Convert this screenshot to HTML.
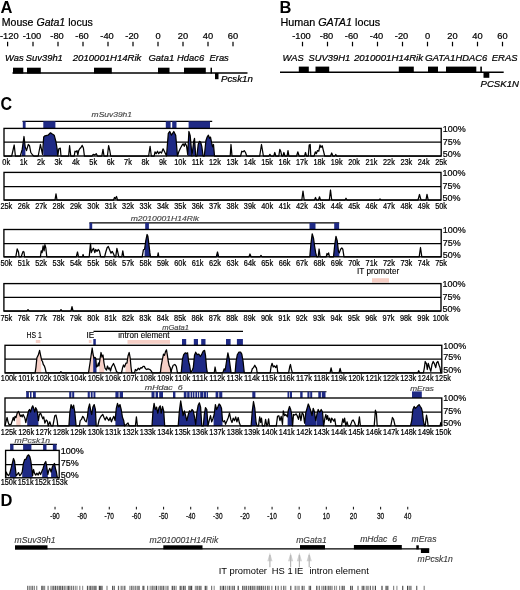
<!DOCTYPE html>
<html><head><meta charset="utf-8"><title>Gata1 locus figure</title>
<style>html,body{margin:0;padding:0;background:#fff;}svg{display:block;}text{font-family:"Liberation Sans",Arial,sans-serif;}</style></head><body>
<svg width="520" height="590" viewBox="0 0 520 590" font-family="Liberation Sans, Arial, sans-serif">
<rect width="520" height="590" fill="#fff"/>
<text x="0.6" y="12.6" font-size="16.5" text-anchor="start" fill="#000" font-weight="bold" >A</text>
<text x="1.7" y="26.1" font-size="10.6" stroke="#000" stroke-width="0.22" textLength="91.2" lengthAdjust="spacingAndGlyphs">Mouse <tspan font-style="italic">Gata1</tspan> locus</text>
<text x="0" y="39" font-size="9.3" text-anchor="start" fill="#000" stroke="#000" stroke-width="0.22" >-120</text>
<rect x="7" y="41.8" width="1.2" height="4.5" fill="#000" />
<text x="32" y="39" font-size="9.3" text-anchor="middle" fill="#000" stroke="#000" stroke-width="0.22" >-100</text>
<rect x="32.4" y="41.8" width="1.2" height="4.5" fill="#000" />
<text x="57" y="39" font-size="9.3" text-anchor="middle" fill="#000" stroke="#000" stroke-width="0.22" >-80</text>
<rect x="57.4" y="41.8" width="1.2" height="4.5" fill="#000" />
<text x="82" y="39" font-size="9.3" text-anchor="middle" fill="#000" stroke="#000" stroke-width="0.22" >-60</text>
<rect x="82.4" y="41.8" width="1.2" height="4.5" fill="#000" />
<text x="107" y="39" font-size="9.3" text-anchor="middle" fill="#000" stroke="#000" stroke-width="0.22" >-40</text>
<rect x="107.4" y="41.8" width="1.2" height="4.5" fill="#000" />
<text x="132" y="39" font-size="9.3" text-anchor="middle" fill="#000" stroke="#000" stroke-width="0.22" >-20</text>
<rect x="132.4" y="41.8" width="1.2" height="4.5" fill="#000" />
<text x="158" y="39" font-size="9.3" text-anchor="middle" fill="#000" stroke="#000" stroke-width="0.22" >0</text>
<rect x="157.4" y="41.8" width="1.2" height="4.5" fill="#000" />
<text x="183" y="39" font-size="9.3" text-anchor="middle" fill="#000" stroke="#000" stroke-width="0.22" >20</text>
<rect x="182.4" y="41.8" width="1.2" height="4.5" fill="#000" />
<text x="208" y="39" font-size="9.3" text-anchor="middle" fill="#000" stroke="#000" stroke-width="0.22" >40</text>
<rect x="207.4" y="41.8" width="1.2" height="4.5" fill="#000" />
<text x="233" y="39" font-size="9.3" text-anchor="middle" fill="#000" stroke="#000" stroke-width="0.22" >60</text>
<rect x="232.4" y="41.8" width="1.2" height="4.5" fill="#000" />
<text x="5" y="60.6" font-size="9.4" text-anchor="start" fill="#000" stroke="#000" stroke-width="0.22" font-style="italic" >Was</text>
<text x="25.8" y="60.6" font-size="9.4" text-anchor="start" fill="#000" stroke="#000" stroke-width="0.22" font-style="italic" >Suv39h1</text>
<text x="72.8" y="60.6" font-size="9.4" text-anchor="start" fill="#000" textLength="68.6" lengthAdjust="spacingAndGlyphs" stroke="#000" stroke-width="0.22" font-style="italic" >2010001H14Rik</text>
<text x="148.4" y="60.6" font-size="9.4" text-anchor="start" fill="#000" textLength="25.8" lengthAdjust="spacingAndGlyphs" stroke="#000" stroke-width="0.22" font-style="italic" >Gata1</text>
<text x="177" y="60.6" font-size="9.4" text-anchor="start" fill="#000" stroke="#000" stroke-width="0.22" font-style="italic" >Hdac6</text>
<text x="209.5" y="60.6" font-size="9.4" text-anchor="start" fill="#000" stroke="#000" stroke-width="0.22" font-style="italic" >Eras</text>
<text x="221" y="82" font-size="9.4" text-anchor="start" fill="#000" textLength="31.8" lengthAdjust="spacingAndGlyphs" stroke="#000" stroke-width="0.22" font-style="italic" >Pcsk1n</text>
<line x1="12.5" y1="73" x2="247.5" y2="73" stroke="#000" stroke-width="1.4" />
<rect x="13" y="67.7" width="10.3" height="5.8" fill="#000" />
<rect x="27" y="67.7" width="13.8" height="5.8" fill="#000" />
<rect x="94" y="67.7" width="17.8" height="5.8" fill="#000" />
<rect x="158" y="67.7" width="11.5" height="5.8" fill="#000" />
<rect x="184" y="67.7" width="21.8" height="5.8" fill="#000" />
<rect x="210.5" y="67.7" width="1.5" height="5.8" fill="#000" />
<rect x="215" y="73" width="3.5" height="6.2" fill="#000" />
<text x="279.6" y="12.6" font-size="16.5" text-anchor="start" fill="#000" font-weight="bold" >B</text>
<text x="280.4" y="26.1" font-size="10.6" stroke="#000" stroke-width="0.22" textLength="99.8" lengthAdjust="spacingAndGlyphs">Human <tspan font-style="italic">GATA1</tspan> locus</text>
<text x="301.5" y="39" font-size="9.3" text-anchor="middle" fill="#000" stroke="#000" stroke-width="0.22" >-100</text>
<rect x="301.9" y="41.8" width="1.2" height="4.5" fill="#000" />
<text x="326.5" y="39" font-size="9.3" text-anchor="middle" fill="#000" stroke="#000" stroke-width="0.22" >-80</text>
<rect x="326.9" y="41.8" width="1.2" height="4.5" fill="#000" />
<text x="351.5" y="39" font-size="9.3" text-anchor="middle" fill="#000" stroke="#000" stroke-width="0.22" >-60</text>
<rect x="351.9" y="41.8" width="1.2" height="4.5" fill="#000" />
<text x="376.5" y="39" font-size="9.3" text-anchor="middle" fill="#000" stroke="#000" stroke-width="0.22" >-40</text>
<rect x="376.9" y="41.8" width="1.2" height="4.5" fill="#000" />
<text x="401.5" y="39" font-size="9.3" text-anchor="middle" fill="#000" stroke="#000" stroke-width="0.22" >-20</text>
<rect x="401.9" y="41.8" width="1.2" height="4.5" fill="#000" />
<text x="427.5" y="39" font-size="9.3" text-anchor="middle" fill="#000" stroke="#000" stroke-width="0.22" >0</text>
<rect x="426.9" y="41.8" width="1.2" height="4.5" fill="#000" />
<text x="452.5" y="39" font-size="9.3" text-anchor="middle" fill="#000" stroke="#000" stroke-width="0.22" >20</text>
<rect x="451.9" y="41.8" width="1.2" height="4.5" fill="#000" />
<text x="477.5" y="39" font-size="9.3" text-anchor="middle" fill="#000" stroke="#000" stroke-width="0.22" >40</text>
<rect x="476.9" y="41.8" width="1.2" height="4.5" fill="#000" />
<text x="502.5" y="39" font-size="9.3" text-anchor="middle" fill="#000" stroke="#000" stroke-width="0.22" >60</text>
<rect x="501.9" y="41.8" width="1.2" height="4.5" fill="#000" />
<text x="282.5" y="60.5" font-size="9.4" text-anchor="start" fill="#000" stroke="#000" stroke-width="0.22" font-style="italic" >WAS</text>
<text x="308.5" y="60.5" font-size="9.4" text-anchor="start" fill="#000" stroke="#000" stroke-width="0.22" font-style="italic" >SUV39H1</text>
<text x="353.9" y="60.5" font-size="9.4" text-anchor="start" fill="#000" textLength="69.2" lengthAdjust="spacingAndGlyphs" stroke="#000" stroke-width="0.22" font-style="italic" >2010001H14Rik</text>
<text x="424.9" y="60.5" font-size="9.4" text-anchor="start" fill="#000" textLength="30.6" lengthAdjust="spacingAndGlyphs" stroke="#000" stroke-width="0.22" font-style="italic" >GATA1</text>
<text x="455.6" y="60.5" font-size="9.4" text-anchor="start" fill="#000" textLength="31.6" lengthAdjust="spacingAndGlyphs" stroke="#000" stroke-width="0.22" font-style="italic" >HDAC6</text>
<text x="491.8" y="60.5" font-size="9.4" text-anchor="start" fill="#000" textLength="25.8" lengthAdjust="spacingAndGlyphs" stroke="#000" stroke-width="0.22" font-style="italic" >ERAS</text>
<text x="480.5" y="87.4" font-size="9.4" text-anchor="start" fill="#000" textLength="38.4" lengthAdjust="spacingAndGlyphs" stroke="#000" stroke-width="0.22" font-style="italic" >PCSK1N</text>
<line x1="280" y1="72.2" x2="503.7" y2="72.2" stroke="#000" stroke-width="1.4" />
<rect x="298.8" y="66.6" width="10" height="6.1" fill="#000" />
<rect x="315.5" y="66.6" width="13.7" height="6.1" fill="#000" />
<rect x="398.8" y="66.6" width="15" height="6.1" fill="#000" />
<rect x="428" y="66.6" width="10" height="6.1" fill="#000" />
<rect x="446" y="66.6" width="30.3" height="6.1" fill="#000" />
<rect x="480.3" y="66.6" width="1.6" height="6.1" fill="#000" />
<rect x="483.5" y="72.2" width="5.8" height="5.6" fill="#000" />
<text x="0.5" y="109.6" font-size="17.8" text-anchor="start" fill="#000" textLength="11.6" lengthAdjust="spacingAndGlyphs" font-weight="bold" >C</text>
<text x="91.6" y="116.5" font-size="8" text-anchor="start" fill="#444" textLength="40.4" lengthAdjust="spacingAndGlyphs" stroke="#444" stroke-width="0.15" font-style="italic" >mSuv39h1</text>
<line x1="22.5" y1="121.4" x2="212.2" y2="121.4" stroke="#000" stroke-width="1.15" />
<rect x="22.8" y="121.3" width="2.8" height="7.1" fill="#1f2a85" />
<rect x="43.3" y="121.3" width="12.1" height="7.1" fill="#1f2a85" />
<rect x="165.8" y="121.3" width="4.8" height="7.1" fill="#1f2a85" />
<rect x="172.2" y="121.3" width="4.3" height="7.1" fill="#1f2a85" />
<rect x="188.6" y="121.3" width="21.4" height="7.1" fill="#1f2a85" />
<text x="130.7" y="220.8" font-size="8" text-anchor="start" fill="#444" textLength="68.4" lengthAdjust="spacingAndGlyphs" stroke="#444" stroke-width="0.15" font-style="italic" >m2010001H14Rik</text>
<line x1="89.4" y1="222.9" x2="339.2" y2="222.9" stroke="#000" stroke-width="1.15" />
<rect x="89.4" y="222.8" width="2.8" height="6.7" fill="#1f2a85" />
<rect x="145.2" y="222.8" width="3.7" height="6.7" fill="#1f2a85" />
<rect x="309.5" y="222.8" width="6" height="6.7" fill="#1f2a85" />
<rect x="334.2" y="222.8" width="4.9" height="6.7" fill="#1f2a85" />
<text x="357" y="273.5" font-size="8.2" text-anchor="start" fill="#000" stroke="#000" stroke-width="0.12" >IT promoter</text>
<rect x="372" y="278.2" width="17" height="4.4" fill="#f6cfc6" />
<text x="26.6" y="338" font-size="8.2" text-anchor="start" fill="#000" textLength="15.2" lengthAdjust="spacingAndGlyphs" stroke="#000" stroke-width="0.12" >HS 1</text>
<rect x="35.8" y="340" width="4.5" height="3" fill="#f6cfc6" />
<text x="86.6" y="338" font-size="8.2" text-anchor="start" fill="#000" stroke="#000" stroke-width="0.12" >IE</text>
<rect x="88.8" y="340" width="2.7" height="3" fill="#f6cfc6" />
<line x1="93.5" y1="331.3" x2="243" y2="331.3" stroke="#000" stroke-width="1.2" />
<text x="162.2" y="330.4" font-size="7.6" text-anchor="start" fill="#444" textLength="26.8" lengthAdjust="spacingAndGlyphs" stroke="#444" stroke-width="0.15" font-style="italic" >mGata1</text>
<text x="118.2" y="338" font-size="8.2" text-anchor="start" fill="#000" textLength="51.2" lengthAdjust="spacingAndGlyphs" stroke="#000" stroke-width="0.12" >intron element</text>
<rect x="127.5" y="340" width="42.5" height="3.8" fill="#f6cfc6" />
<rect x="93.3" y="339" width="2.5" height="6.3" fill="#1f2a85" />
<rect x="182" y="339" width="4.2" height="6.3" fill="#1f2a85" />
<rect x="193.8" y="339" width="4.2" height="6.3" fill="#1f2a85" />
<rect x="201.2" y="339" width="4.3" height="6.3" fill="#1f2a85" />
<rect x="226" y="339" width="4.6" height="6.3" fill="#1f2a85" />
<rect x="236.9" y="339" width="6" height="6.3" fill="#1f2a85" />
<text x="144.8" y="389.5" font-size="7.3" text-anchor="start" fill="#444" textLength="37.8" lengthAdjust="spacingAndGlyphs" stroke="#444" stroke-width="0.15" font-style="italic" >mHdac&#160;&#160;6</text>
<line x1="26" y1="391.7" x2="326.5" y2="391.7" stroke="#000" stroke-width="1.15" />
<rect x="26.2" y="391.6" width="2.7" height="6.4" fill="#1f2a85" />
<rect x="30" y="391.6" width="1.5" height="6.4" fill="#1f2a85" />
<rect x="33" y="391.6" width="2.8" height="6.4" fill="#1f2a85" />
<rect x="69.2" y="391.6" width="2.2" height="6.4" fill="#1f2a85" />
<rect x="72.2" y="391.6" width="2" height="6.4" fill="#1f2a85" />
<rect x="87.7" y="391.6" width="2.1" height="6.4" fill="#1f2a85" />
<rect x="90.8" y="391.6" width="1.8" height="6.4" fill="#1f2a85" />
<rect x="93.5" y="391.6" width="1.9" height="6.4" fill="#1f2a85" />
<rect x="115.4" y="391.6" width="3.2" height="6.4" fill="#1f2a85" />
<rect x="119.6" y="391.6" width="3.4" height="6.4" fill="#1f2a85" />
<rect x="151.5" y="391.6" width="3" height="6.4" fill="#1f2a85" />
<rect x="155.6" y="391.6" width="2.4" height="6.4" fill="#1f2a85" />
<rect x="159.2" y="391.6" width="3.8" height="6.4" fill="#1f2a85" />
<rect x="173" y="391.6" width="2.4" height="6.4" fill="#1f2a85" />
<rect x="183.8" y="391.6" width="2.7" height="6.4" fill="#1f2a85" />
<rect x="187.2" y="391.6" width="2.4" height="6.4" fill="#1f2a85" />
<rect x="190.6" y="391.6" width="1.7" height="6.4" fill="#1f2a85" />
<rect x="193" y="391.6" width="1.4" height="6.4" fill="#1f2a85" />
<rect x="195.4" y="391.6" width="1.6" height="6.4" fill="#1f2a85" />
<rect x="197.8" y="391.6" width="1.4" height="6.4" fill="#1f2a85" />
<rect x="200.2" y="391.6" width="2.8" height="6.4" fill="#1f2a85" />
<rect x="203.6" y="391.6" width="2.4" height="6.4" fill="#1f2a85" />
<rect x="206.6" y="391.6" width="1.4" height="6.4" fill="#1f2a85" />
<rect x="215.6" y="391.6" width="2.7" height="6.4" fill="#1f2a85" />
<rect x="219.2" y="391.6" width="3.1" height="6.4" fill="#1f2a85" />
<rect x="252.3" y="391.6" width="3.1" height="6.4" fill="#1f2a85" />
<rect x="287.5" y="391.6" width="1.8" height="6.4" fill="#1f2a85" />
<rect x="290" y="391.6" width="2" height="6.4" fill="#1f2a85" />
<rect x="300.2" y="391.6" width="2.4" height="6.4" fill="#1f2a85" />
<rect x="307.4" y="391.6" width="2.1" height="6.4" fill="#1f2a85" />
<rect x="310.2" y="391.6" width="2" height="6.4" fill="#1f2a85" />
<rect x="318.3" y="391.6" width="2.6" height="6.4" fill="#1f2a85" />
<rect x="321.8" y="391.6" width="3.7" height="6.4" fill="#1f2a85" />
<text x="410.2" y="390.6" font-size="7.6" text-anchor="start" fill="#444" textLength="23.8" lengthAdjust="spacingAndGlyphs" stroke="#444" stroke-width="0.15" font-style="italic" >mEras</text>
<rect x="412" y="391.4" width="9.8" height="6.6" fill="#1f2a85" />
<text x="14.6" y="443.4" font-size="8" text-anchor="start" fill="#444" textLength="35.4" lengthAdjust="spacingAndGlyphs" stroke="#444" stroke-width="0.15" font-style="italic" >mPcsk1n</text>
<line x1="10.1" y1="444.4" x2="56.9" y2="444.4" stroke="#000" stroke-width="1.15" />
<rect x="10.1" y="444.3" width="3.4" height="6.2" fill="#1f2a85" />
<rect x="23.1" y="444.3" width="8.3" height="6.2" fill="#1f2a85" />
<rect x="43.1" y="444.3" width="3.4" height="6.2" fill="#1f2a85" />
<rect x="52.9" y="444.3" width="3.7" height="6.2" fill="#1f2a85" />
<line x1="4" y1="142.2" x2="441.2" y2="142.2" stroke="#000" stroke-width="1.25" />
<polygon points="21.8,156 21.8,150.79 22.2,149.4 24,136.5 25.2,147 25.4,147.55 25.4,156" fill="#1f2a85"/>
<polygon points="43.3,156 43.3,142.77 43.7,137 45,135.8 48,135.2 50.5,132.8 52.3,134 54.2,135.2 56,142 57.2,149.4 57.8,156 57.8,156" fill="#1f2a85"/>
<polygon points="166.5,156 166.5,156 168.3,133.4 169.8,131.5 171.4,135.2 173.8,131.5 175.7,135.2 177.5,156 177.5,156" fill="#1f2a85"/>
<polygon points="187.6,156 187.6,153.58 187.7,154.3 188.9,131.5 190.2,135.8 191.1,145.7 192,156 192,156" fill="#1f2a85"/>
<polygon points="192.8,156 192.8,149 193.6,142 194.5,138.3 195.7,156 195.7,156" fill="#1f2a85"/>
<polygon points="196.9,156 196.9,156 198.2,144.5 199.4,141.4 200.6,142 201.8,146.3 203.1,156 203.1,156" fill="#1f2a85"/>
<polygon points="204.3,156 204.3,156 205.9,140.8 207.1,137.1 208.4,135.2 209.6,138.3 210.5,137.1 211.7,143.2 212.6,146.9 213.5,144.5 214.5,156 214.5,156" fill="#1f2a85"/>
<polyline points="4,156 11.7,156 14.2,145 15.4,156 20.3,156 22.2,149.4 24,136.5 25.2,147 26.5,150.6 28.3,144.5 29.5,145.7 30.8,152.5 32.6,155 33.8,156 38.2,156 40.4,144.5 42.5,154.3 43.7,137 45,135.8 48,135.2 50.5,132.8 52.3,134 54.2,135.2 56,142 57.2,149.4 57.8,156 58.8,148.8 60.3,148.2 61,156 68.6,156 69.6,145.7 70.8,156 74.2,156 75,151.2 76,151.8 77,150.6 77.8,155 78.7,150.6 79.7,148.8 81,147.5 82.2,145.4 83.4,148 84.4,156 92,156 93.2,154.3 94.5,155 96.3,153.7 97.5,156 101.8,156 103,149.4 104,156 107.4,156 108.6,145.7 109.8,150.6 110.7,156 148.6,156 150.1,146.3 151.3,156 154.2,156 155,151.8 156.2,153.7 157.5,151.2 158.7,153.7 160,151.8 161.5,153 163.1,148.8 164.6,151.8 166.5,156 168.3,133.4 169.8,131.5 171.4,135.2 173.8,131.5 175.7,135.2 177.5,156 178.8,151.8 180.4,148.2 181.8,145.7 183.1,143.8 184.3,146.3 185.2,143.2 186.5,145.7 187.7,154.3 188.9,131.5 190.2,135.8 191.1,145.7 192,156 193.6,142 194.5,138.3 195.7,156 196.9,156 198.2,144.5 199.4,141.4 200.6,142 201.8,146.3 203.1,156 204.3,156 205.9,140.8 207.1,137.1 208.4,135.2 209.6,138.3 210.5,137.1 211.7,143.2 212.6,146.9 213.5,144.5 214.5,156 230.2,156 231,144.5 232,156 240.6,156 241.8,151.2 243,151.8 244.3,150.6 245.5,152.5 246.8,156 259.7,156 261.5,144.5 263.4,156 268.9,156 269.9,154.3 270.9,156 273.8,156 274.8,152.5 275.8,156 278.8,156 279.8,149.4 280.7,151.2 281.8,156 283,156 283.9,152.5 284.9,156 287.1,156 288,150.6 288.9,156 296.6,156 297.8,151.8 299.1,156 304.6,156 305.5,152.5 306.5,156 308.3,156 309.2,145 310.2,144.5 310.8,156 314.1,156 315.3,151.8 316.3,153.7 317.5,150.6 318.8,151.2 320,145 321,147.5 322.2,145.7 323.4,150.6 324.7,156 330.5,156 331.7,153 332.9,156 334.8,156 335.8,154.5 336.6,156 441.2,156" fill="none" stroke="#000" stroke-width="1.25" stroke-linejoin="round"/>
<rect x="4" y="128.4" width="437.2" height="27.6" fill="none" stroke="#000" stroke-width="1.35"/>
<text x="442.7" y="132.1" font-size="9.8" text-anchor="start" fill="#000" textLength="23" lengthAdjust="spacingAndGlyphs" stroke="#000" stroke-width="0.22" >100%</text>
<text x="442.7" y="144.8" font-size="9.8" text-anchor="start" fill="#000" textLength="18" lengthAdjust="spacingAndGlyphs" stroke="#000" stroke-width="0.22" >75%</text>
<text x="442.7" y="156.9" font-size="9.8" text-anchor="start" fill="#000" textLength="18" lengthAdjust="spacingAndGlyphs" stroke="#000" stroke-width="0.22" >50%</text>
<text x="6.2" y="164.6" font-size="8.4" text-anchor="middle" fill="#000" textLength="7.76" lengthAdjust="spacingAndGlyphs" stroke="#000" stroke-width="0.22" >0k</text>
<text x="23.6" y="164.6" font-size="8.4" text-anchor="middle" fill="#000" textLength="7.76" lengthAdjust="spacingAndGlyphs" stroke="#000" stroke-width="0.22" >1k</text>
<text x="40.99" y="164.6" font-size="8.4" text-anchor="middle" fill="#000" textLength="7.76" lengthAdjust="spacingAndGlyphs" stroke="#000" stroke-width="0.22" >2k</text>
<text x="58.39" y="164.6" font-size="8.4" text-anchor="middle" fill="#000" textLength="7.76" lengthAdjust="spacingAndGlyphs" stroke="#000" stroke-width="0.22" >3k</text>
<text x="75.78" y="164.6" font-size="8.4" text-anchor="middle" fill="#000" textLength="7.76" lengthAdjust="spacingAndGlyphs" stroke="#000" stroke-width="0.22" >4k</text>
<text x="93.18" y="164.6" font-size="8.4" text-anchor="middle" fill="#000" textLength="7.76" lengthAdjust="spacingAndGlyphs" stroke="#000" stroke-width="0.22" >5k</text>
<text x="110.58" y="164.6" font-size="8.4" text-anchor="middle" fill="#000" textLength="7.76" lengthAdjust="spacingAndGlyphs" stroke="#000" stroke-width="0.22" >6k</text>
<text x="127.97" y="164.6" font-size="8.4" text-anchor="middle" fill="#000" textLength="7.76" lengthAdjust="spacingAndGlyphs" stroke="#000" stroke-width="0.22" >7k</text>
<text x="145.37" y="164.6" font-size="8.4" text-anchor="middle" fill="#000" textLength="7.76" lengthAdjust="spacingAndGlyphs" stroke="#000" stroke-width="0.22" >8k</text>
<text x="162.76" y="164.6" font-size="8.4" text-anchor="middle" fill="#000" textLength="7.76" lengthAdjust="spacingAndGlyphs" stroke="#000" stroke-width="0.22" >9k</text>
<text x="180.16" y="164.6" font-size="8.4" text-anchor="middle" fill="#000" textLength="11.85" lengthAdjust="spacingAndGlyphs" stroke="#000" stroke-width="0.22" >10k</text>
<text x="197.56" y="164.6" font-size="8.4" text-anchor="middle" fill="#000" textLength="11.85" lengthAdjust="spacingAndGlyphs" stroke="#000" stroke-width="0.22" >11k</text>
<text x="214.95" y="164.6" font-size="8.4" text-anchor="middle" fill="#000" textLength="11.85" lengthAdjust="spacingAndGlyphs" stroke="#000" stroke-width="0.22" >12k</text>
<text x="232.35" y="164.6" font-size="8.4" text-anchor="middle" fill="#000" textLength="11.85" lengthAdjust="spacingAndGlyphs" stroke="#000" stroke-width="0.22" >13k</text>
<text x="249.74" y="164.6" font-size="8.4" text-anchor="middle" fill="#000" textLength="11.85" lengthAdjust="spacingAndGlyphs" stroke="#000" stroke-width="0.22" >14k</text>
<text x="267.14" y="164.6" font-size="8.4" text-anchor="middle" fill="#000" textLength="11.85" lengthAdjust="spacingAndGlyphs" stroke="#000" stroke-width="0.22" >15k</text>
<text x="284.54" y="164.6" font-size="8.4" text-anchor="middle" fill="#000" textLength="11.85" lengthAdjust="spacingAndGlyphs" stroke="#000" stroke-width="0.22" >16k</text>
<text x="301.93" y="164.6" font-size="8.4" text-anchor="middle" fill="#000" textLength="11.85" lengthAdjust="spacingAndGlyphs" stroke="#000" stroke-width="0.22" >17k</text>
<text x="319.33" y="164.6" font-size="8.4" text-anchor="middle" fill="#000" textLength="11.85" lengthAdjust="spacingAndGlyphs" stroke="#000" stroke-width="0.22" >18k</text>
<text x="336.72" y="164.6" font-size="8.4" text-anchor="middle" fill="#000" textLength="11.85" lengthAdjust="spacingAndGlyphs" stroke="#000" stroke-width="0.22" >19k</text>
<text x="354.12" y="164.6" font-size="8.4" text-anchor="middle" fill="#000" textLength="11.85" lengthAdjust="spacingAndGlyphs" stroke="#000" stroke-width="0.22" >20k</text>
<text x="371.52" y="164.6" font-size="8.4" text-anchor="middle" fill="#000" textLength="11.85" lengthAdjust="spacingAndGlyphs" stroke="#000" stroke-width="0.22" >21k</text>
<text x="388.91" y="164.6" font-size="8.4" text-anchor="middle" fill="#000" textLength="11.85" lengthAdjust="spacingAndGlyphs" stroke="#000" stroke-width="0.22" >22k</text>
<text x="406.31" y="164.6" font-size="8.4" text-anchor="middle" fill="#000" textLength="11.85" lengthAdjust="spacingAndGlyphs" stroke="#000" stroke-width="0.22" >23k</text>
<text x="423.7" y="164.6" font-size="8.4" text-anchor="middle" fill="#000" textLength="11.85" lengthAdjust="spacingAndGlyphs" stroke="#000" stroke-width="0.22" >24k</text>
<text x="441.1" y="164.6" font-size="8.4" text-anchor="middle" fill="#000" textLength="11.85" lengthAdjust="spacingAndGlyphs" stroke="#000" stroke-width="0.22" >25k</text>
<line x1="4" y1="186.6" x2="441" y2="186.6" stroke="#000" stroke-width="1.25" />
<polyline points="4,200 55,200 56,193.8 57,200 113.5,200 114.5,197.5 115.5,198.5 116.5,196.5 117.5,200 301.8,200 303,191.2 304.2,200 314.5,200 315.5,197.5 316.5,200 318.5,200 319.5,196.8 320.5,200 329.3,200 330.5,190 331.7,200 345,200 346,198.2 347,200 379,200 380,199 381,200 418,200 419.5,194.5 421,200 426,200 427,194.3 428.2,200 441,200" fill="none" stroke="#000" stroke-width="1.25" stroke-linejoin="round"/>
<rect x="4" y="172.4" width="437" height="27.6" fill="none" stroke="#000" stroke-width="1.35"/>
<text x="442.5" y="176.1" font-size="9.8" text-anchor="start" fill="#000" textLength="23" lengthAdjust="spacingAndGlyphs" stroke="#000" stroke-width="0.22" >100%</text>
<text x="442.5" y="189.2" font-size="9.8" text-anchor="start" fill="#000" textLength="18" lengthAdjust="spacingAndGlyphs" stroke="#000" stroke-width="0.22" >75%</text>
<text x="442.5" y="200.9" font-size="9.8" text-anchor="start" fill="#000" textLength="18" lengthAdjust="spacingAndGlyphs" stroke="#000" stroke-width="0.22" >50%</text>
<text x="6.3" y="208.9" font-size="8.4" text-anchor="middle" fill="#000" textLength="11.85" lengthAdjust="spacingAndGlyphs" stroke="#000" stroke-width="0.22" >25k</text>
<text x="23.69" y="208.9" font-size="8.4" text-anchor="middle" fill="#000" textLength="11.85" lengthAdjust="spacingAndGlyphs" stroke="#000" stroke-width="0.22" >26k</text>
<text x="41.08" y="208.9" font-size="8.4" text-anchor="middle" fill="#000" textLength="11.85" lengthAdjust="spacingAndGlyphs" stroke="#000" stroke-width="0.22" >27k</text>
<text x="58.48" y="208.9" font-size="8.4" text-anchor="middle" fill="#000" textLength="11.85" lengthAdjust="spacingAndGlyphs" stroke="#000" stroke-width="0.22" >28k</text>
<text x="75.87" y="208.9" font-size="8.4" text-anchor="middle" fill="#000" textLength="11.85" lengthAdjust="spacingAndGlyphs" stroke="#000" stroke-width="0.22" >29k</text>
<text x="93.26" y="208.9" font-size="8.4" text-anchor="middle" fill="#000" textLength="11.85" lengthAdjust="spacingAndGlyphs" stroke="#000" stroke-width="0.22" >30k</text>
<text x="110.65" y="208.9" font-size="8.4" text-anchor="middle" fill="#000" textLength="11.85" lengthAdjust="spacingAndGlyphs" stroke="#000" stroke-width="0.22" >31k</text>
<text x="128.04" y="208.9" font-size="8.4" text-anchor="middle" fill="#000" textLength="11.85" lengthAdjust="spacingAndGlyphs" stroke="#000" stroke-width="0.22" >32k</text>
<text x="145.44" y="208.9" font-size="8.4" text-anchor="middle" fill="#000" textLength="11.85" lengthAdjust="spacingAndGlyphs" stroke="#000" stroke-width="0.22" >33k</text>
<text x="162.83" y="208.9" font-size="8.4" text-anchor="middle" fill="#000" textLength="11.85" lengthAdjust="spacingAndGlyphs" stroke="#000" stroke-width="0.22" >34k</text>
<text x="180.22" y="208.9" font-size="8.4" text-anchor="middle" fill="#000" textLength="11.85" lengthAdjust="spacingAndGlyphs" stroke="#000" stroke-width="0.22" >35k</text>
<text x="197.61" y="208.9" font-size="8.4" text-anchor="middle" fill="#000" textLength="11.85" lengthAdjust="spacingAndGlyphs" stroke="#000" stroke-width="0.22" >36k</text>
<text x="215" y="208.9" font-size="8.4" text-anchor="middle" fill="#000" textLength="11.85" lengthAdjust="spacingAndGlyphs" stroke="#000" stroke-width="0.22" >37k</text>
<text x="232.4" y="208.9" font-size="8.4" text-anchor="middle" fill="#000" textLength="11.85" lengthAdjust="spacingAndGlyphs" stroke="#000" stroke-width="0.22" >38k</text>
<text x="249.79" y="208.9" font-size="8.4" text-anchor="middle" fill="#000" textLength="11.85" lengthAdjust="spacingAndGlyphs" stroke="#000" stroke-width="0.22" >39k</text>
<text x="267.18" y="208.9" font-size="8.4" text-anchor="middle" fill="#000" textLength="11.85" lengthAdjust="spacingAndGlyphs" stroke="#000" stroke-width="0.22" >40k</text>
<text x="284.57" y="208.9" font-size="8.4" text-anchor="middle" fill="#000" textLength="11.85" lengthAdjust="spacingAndGlyphs" stroke="#000" stroke-width="0.22" >41k</text>
<text x="301.96" y="208.9" font-size="8.4" text-anchor="middle" fill="#000" textLength="11.85" lengthAdjust="spacingAndGlyphs" stroke="#000" stroke-width="0.22" >42k</text>
<text x="319.36" y="208.9" font-size="8.4" text-anchor="middle" fill="#000" textLength="11.85" lengthAdjust="spacingAndGlyphs" stroke="#000" stroke-width="0.22" >43k</text>
<text x="336.75" y="208.9" font-size="8.4" text-anchor="middle" fill="#000" textLength="11.85" lengthAdjust="spacingAndGlyphs" stroke="#000" stroke-width="0.22" >44k</text>
<text x="354.14" y="208.9" font-size="8.4" text-anchor="middle" fill="#000" textLength="11.85" lengthAdjust="spacingAndGlyphs" stroke="#000" stroke-width="0.22" >45k</text>
<text x="371.53" y="208.9" font-size="8.4" text-anchor="middle" fill="#000" textLength="11.85" lengthAdjust="spacingAndGlyphs" stroke="#000" stroke-width="0.22" >46k</text>
<text x="388.92" y="208.9" font-size="8.4" text-anchor="middle" fill="#000" textLength="11.85" lengthAdjust="spacingAndGlyphs" stroke="#000" stroke-width="0.22" >47k</text>
<text x="406.32" y="208.9" font-size="8.4" text-anchor="middle" fill="#000" textLength="11.85" lengthAdjust="spacingAndGlyphs" stroke="#000" stroke-width="0.22" >48k</text>
<text x="423.71" y="208.9" font-size="8.4" text-anchor="middle" fill="#000" textLength="11.85" lengthAdjust="spacingAndGlyphs" stroke="#000" stroke-width="0.22" >49k</text>
<text x="441.1" y="208.9" font-size="8.4" text-anchor="middle" fill="#000" textLength="11.85" lengthAdjust="spacingAndGlyphs" stroke="#000" stroke-width="0.22" >50k</text>
<line x1="3.9" y1="243.5" x2="441.2" y2="243.5" stroke="#000" stroke-width="1.25" />
<polygon points="144.6,256.8 144.6,249.2 145.8,240.6 147.1,234.5 147.9,236.3 148.9,244.3 149.9,252.9 150.5,256.8 150.5,256.8" fill="#1f2a85"/>
<polygon points="216.3,256.8 216.3,256.8 217.5,252 218.7,256.8 218.7,256.8" fill="#1f2a85"/>
<polygon points="309.8,256.8 309.8,256.8 311,243.1 312.2,233.8 313.5,238.2 314.5,245.5 315.7,252.9 316.7,256.8 316.7,256.8" fill="#1f2a85"/>
<polygon points="333.5,256.8 333.5,256.8 334.8,244.3 336,236.3 337.2,240.6 338.5,251.7 339.3,252.9 339.3,256.8" fill="#1f2a85"/>
<polyline points="3.9,256.8 15.8,256.8 17.2,248.9 18.5,252 19.1,256.8 21.2,256.8 22.2,253.8 23.1,251.4 24,252 24.6,256.8 40.4,256.8 41.2,250.8 42.1,252.6 43.1,245.8 44.1,250.8 44.9,244.6 45.8,247.7 46.8,256.8 76.3,256.8 77.5,252 78.5,256.8 82.5,256.8 83.1,254.5 83.7,256.8 89.2,256.8 90.5,243.4 91.3,252.6 92.3,250.2 93.5,248.3 94.8,252.6 95.8,249.5 97,251.4 98.2,249.5 99.4,250.8 100.7,256.8 104.6,256.8 105.8,252 107.1,247.7 108.3,246.5 109.8,250.2 111,253.2 112.2,251.4 113.5,253.8 114.7,256.8 115.7,256.8 116.9,248.3 117.9,252.6 118.8,256.8 121.8,256.8 122.8,250.8 123.8,256.8 142.2,256.8 143.4,249.8 144.6,249.2 145.8,240.6 147.1,234.5 147.9,236.3 148.9,244.3 149.9,252.9 150.5,256.8 157.5,256.8 158.2,252.9 158.8,256.8 216.3,256.8 217.5,252 218.7,256.8 249,256.8 250,254 251,256.8 260,256.8 261,255.5 262,256.8 309.8,256.8 311,243.1 312.2,233.8 313.5,238.2 314.5,245.5 315.7,252.9 316.7,256.8 318.2,256.8 319.1,249 320.1,256.8 326.2,256.8 327,253.5 327.8,254.8 328.6,252.9 329.5,256.8 333.5,256.8 334.8,244.3 336,236.3 337.2,240.6 338.5,251.7 339.3,252.9 340.6,249.2 341.8,248 342.8,249.2 344,256.8 419.2,256.8 420.5,247.5 421.8,256.8 441.2,256.8" fill="none" stroke="#000" stroke-width="1.25" stroke-linejoin="round"/>
<rect x="3.9" y="229.5" width="437.3" height="27.3" fill="none" stroke="#000" stroke-width="1.35"/>
<text x="442.7" y="233.2" font-size="9.8" text-anchor="start" fill="#000" textLength="23" lengthAdjust="spacingAndGlyphs" stroke="#000" stroke-width="0.22" >100%</text>
<text x="442.7" y="246.1" font-size="9.8" text-anchor="start" fill="#000" textLength="18" lengthAdjust="spacingAndGlyphs" stroke="#000" stroke-width="0.22" >75%</text>
<text x="442.7" y="257.7" font-size="9.8" text-anchor="start" fill="#000" textLength="18" lengthAdjust="spacingAndGlyphs" stroke="#000" stroke-width="0.22" >50%</text>
<text x="6.3" y="265.6" font-size="8.4" text-anchor="middle" fill="#000" textLength="11.85" lengthAdjust="spacingAndGlyphs" stroke="#000" stroke-width="0.22" >50k</text>
<text x="23.69" y="265.6" font-size="8.4" text-anchor="middle" fill="#000" textLength="11.85" lengthAdjust="spacingAndGlyphs" stroke="#000" stroke-width="0.22" >51k</text>
<text x="41.08" y="265.6" font-size="8.4" text-anchor="middle" fill="#000" textLength="11.85" lengthAdjust="spacingAndGlyphs" stroke="#000" stroke-width="0.22" >52k</text>
<text x="58.48" y="265.6" font-size="8.4" text-anchor="middle" fill="#000" textLength="11.85" lengthAdjust="spacingAndGlyphs" stroke="#000" stroke-width="0.22" >53k</text>
<text x="75.87" y="265.6" font-size="8.4" text-anchor="middle" fill="#000" textLength="11.85" lengthAdjust="spacingAndGlyphs" stroke="#000" stroke-width="0.22" >54k</text>
<text x="93.26" y="265.6" font-size="8.4" text-anchor="middle" fill="#000" textLength="11.85" lengthAdjust="spacingAndGlyphs" stroke="#000" stroke-width="0.22" >55k</text>
<text x="110.65" y="265.6" font-size="8.4" text-anchor="middle" fill="#000" textLength="11.85" lengthAdjust="spacingAndGlyphs" stroke="#000" stroke-width="0.22" >56k</text>
<text x="128.04" y="265.6" font-size="8.4" text-anchor="middle" fill="#000" textLength="11.85" lengthAdjust="spacingAndGlyphs" stroke="#000" stroke-width="0.22" >57k</text>
<text x="145.44" y="265.6" font-size="8.4" text-anchor="middle" fill="#000" textLength="11.85" lengthAdjust="spacingAndGlyphs" stroke="#000" stroke-width="0.22" >58k</text>
<text x="162.83" y="265.6" font-size="8.4" text-anchor="middle" fill="#000" textLength="11.85" lengthAdjust="spacingAndGlyphs" stroke="#000" stroke-width="0.22" >59k</text>
<text x="180.22" y="265.6" font-size="8.4" text-anchor="middle" fill="#000" textLength="11.85" lengthAdjust="spacingAndGlyphs" stroke="#000" stroke-width="0.22" >60k</text>
<text x="197.61" y="265.6" font-size="8.4" text-anchor="middle" fill="#000" textLength="11.85" lengthAdjust="spacingAndGlyphs" stroke="#000" stroke-width="0.22" >61k</text>
<text x="215" y="265.6" font-size="8.4" text-anchor="middle" fill="#000" textLength="11.85" lengthAdjust="spacingAndGlyphs" stroke="#000" stroke-width="0.22" >62k</text>
<text x="232.4" y="265.6" font-size="8.4" text-anchor="middle" fill="#000" textLength="11.85" lengthAdjust="spacingAndGlyphs" stroke="#000" stroke-width="0.22" >63k</text>
<text x="249.79" y="265.6" font-size="8.4" text-anchor="middle" fill="#000" textLength="11.85" lengthAdjust="spacingAndGlyphs" stroke="#000" stroke-width="0.22" >64k</text>
<text x="267.18" y="265.6" font-size="8.4" text-anchor="middle" fill="#000" textLength="11.85" lengthAdjust="spacingAndGlyphs" stroke="#000" stroke-width="0.22" >65k</text>
<text x="284.57" y="265.6" font-size="8.4" text-anchor="middle" fill="#000" textLength="11.85" lengthAdjust="spacingAndGlyphs" stroke="#000" stroke-width="0.22" >66k</text>
<text x="301.96" y="265.6" font-size="8.4" text-anchor="middle" fill="#000" textLength="11.85" lengthAdjust="spacingAndGlyphs" stroke="#000" stroke-width="0.22" >67k</text>
<text x="319.36" y="265.6" font-size="8.4" text-anchor="middle" fill="#000" textLength="11.85" lengthAdjust="spacingAndGlyphs" stroke="#000" stroke-width="0.22" >68k</text>
<text x="336.75" y="265.6" font-size="8.4" text-anchor="middle" fill="#000" textLength="11.85" lengthAdjust="spacingAndGlyphs" stroke="#000" stroke-width="0.22" >69k</text>
<text x="354.14" y="265.6" font-size="8.4" text-anchor="middle" fill="#000" textLength="11.85" lengthAdjust="spacingAndGlyphs" stroke="#000" stroke-width="0.22" >70k</text>
<text x="371.53" y="265.6" font-size="8.4" text-anchor="middle" fill="#000" textLength="11.85" lengthAdjust="spacingAndGlyphs" stroke="#000" stroke-width="0.22" >71k</text>
<text x="388.92" y="265.6" font-size="8.4" text-anchor="middle" fill="#000" textLength="11.85" lengthAdjust="spacingAndGlyphs" stroke="#000" stroke-width="0.22" >72k</text>
<text x="406.32" y="265.6" font-size="8.4" text-anchor="middle" fill="#000" textLength="11.85" lengthAdjust="spacingAndGlyphs" stroke="#000" stroke-width="0.22" >73k</text>
<text x="423.71" y="265.6" font-size="8.4" text-anchor="middle" fill="#000" textLength="11.85" lengthAdjust="spacingAndGlyphs" stroke="#000" stroke-width="0.22" >74k</text>
<text x="441.1" y="265.6" font-size="8.4" text-anchor="middle" fill="#000" textLength="11.85" lengthAdjust="spacingAndGlyphs" stroke="#000" stroke-width="0.22" >75k</text>
<line x1="3.9" y1="297.4" x2="441" y2="297.4" stroke="#000" stroke-width="1.25" />
<polyline points="3.9,311 27,311 28,309.6 29,311 60,311 61,309.6 62,311 71,311 72,306.7 73,311 441,311" fill="none" stroke="#000" stroke-width="1.25" stroke-linejoin="round"/>
<rect x="3.9" y="283.6" width="437.1" height="27.4" fill="none" stroke="#000" stroke-width="1.35"/>
<text x="442.5" y="287.3" font-size="9.8" text-anchor="start" fill="#000" textLength="23" lengthAdjust="spacingAndGlyphs" stroke="#000" stroke-width="0.22" >100%</text>
<text x="442.5" y="300" font-size="9.8" text-anchor="start" fill="#000" textLength="18" lengthAdjust="spacingAndGlyphs" stroke="#000" stroke-width="0.22" >75%</text>
<text x="442.5" y="311.9" font-size="9.8" text-anchor="start" fill="#000" textLength="18" lengthAdjust="spacingAndGlyphs" stroke="#000" stroke-width="0.22" >50%</text>
<text x="6.3" y="321" font-size="8.4" text-anchor="middle" fill="#000" textLength="11.85" lengthAdjust="spacingAndGlyphs" stroke="#000" stroke-width="0.22" >75k</text>
<text x="23.67" y="321" font-size="8.4" text-anchor="middle" fill="#000" textLength="11.85" lengthAdjust="spacingAndGlyphs" stroke="#000" stroke-width="0.22" >76k</text>
<text x="41.04" y="321" font-size="8.4" text-anchor="middle" fill="#000" textLength="11.85" lengthAdjust="spacingAndGlyphs" stroke="#000" stroke-width="0.22" >77k</text>
<text x="58.42" y="321" font-size="8.4" text-anchor="middle" fill="#000" textLength="11.85" lengthAdjust="spacingAndGlyphs" stroke="#000" stroke-width="0.22" >78k</text>
<text x="75.79" y="321" font-size="8.4" text-anchor="middle" fill="#000" textLength="11.85" lengthAdjust="spacingAndGlyphs" stroke="#000" stroke-width="0.22" >79k</text>
<text x="93.16" y="321" font-size="8.4" text-anchor="middle" fill="#000" textLength="11.85" lengthAdjust="spacingAndGlyphs" stroke="#000" stroke-width="0.22" >80k</text>
<text x="110.53" y="321" font-size="8.4" text-anchor="middle" fill="#000" textLength="11.85" lengthAdjust="spacingAndGlyphs" stroke="#000" stroke-width="0.22" >81k</text>
<text x="127.9" y="321" font-size="8.4" text-anchor="middle" fill="#000" textLength="11.85" lengthAdjust="spacingAndGlyphs" stroke="#000" stroke-width="0.22" >82k</text>
<text x="145.28" y="321" font-size="8.4" text-anchor="middle" fill="#000" textLength="11.85" lengthAdjust="spacingAndGlyphs" stroke="#000" stroke-width="0.22" >83k</text>
<text x="162.65" y="321" font-size="8.4" text-anchor="middle" fill="#000" textLength="11.85" lengthAdjust="spacingAndGlyphs" stroke="#000" stroke-width="0.22" >84k</text>
<text x="180.02" y="321" font-size="8.4" text-anchor="middle" fill="#000" textLength="11.85" lengthAdjust="spacingAndGlyphs" stroke="#000" stroke-width="0.22" >85k</text>
<text x="197.39" y="321" font-size="8.4" text-anchor="middle" fill="#000" textLength="11.85" lengthAdjust="spacingAndGlyphs" stroke="#000" stroke-width="0.22" >86k</text>
<text x="214.76" y="321" font-size="8.4" text-anchor="middle" fill="#000" textLength="11.85" lengthAdjust="spacingAndGlyphs" stroke="#000" stroke-width="0.22" >87k</text>
<text x="232.14" y="321" font-size="8.4" text-anchor="middle" fill="#000" textLength="11.85" lengthAdjust="spacingAndGlyphs" stroke="#000" stroke-width="0.22" >88k</text>
<text x="249.51" y="321" font-size="8.4" text-anchor="middle" fill="#000" textLength="11.85" lengthAdjust="spacingAndGlyphs" stroke="#000" stroke-width="0.22" >89k</text>
<text x="266.88" y="321" font-size="8.4" text-anchor="middle" fill="#000" textLength="11.85" lengthAdjust="spacingAndGlyphs" stroke="#000" stroke-width="0.22" >90k</text>
<text x="284.25" y="321" font-size="8.4" text-anchor="middle" fill="#000" textLength="11.85" lengthAdjust="spacingAndGlyphs" stroke="#000" stroke-width="0.22" >91k</text>
<text x="301.62" y="321" font-size="8.4" text-anchor="middle" fill="#000" textLength="11.85" lengthAdjust="spacingAndGlyphs" stroke="#000" stroke-width="0.22" >92k</text>
<text x="319" y="321" font-size="8.4" text-anchor="middle" fill="#000" textLength="11.85" lengthAdjust="spacingAndGlyphs" stroke="#000" stroke-width="0.22" >93k</text>
<text x="336.37" y="321" font-size="8.4" text-anchor="middle" fill="#000" textLength="11.85" lengthAdjust="spacingAndGlyphs" stroke="#000" stroke-width="0.22" >94k</text>
<text x="353.74" y="321" font-size="8.4" text-anchor="middle" fill="#000" textLength="11.85" lengthAdjust="spacingAndGlyphs" stroke="#000" stroke-width="0.22" >95k</text>
<text x="371.11" y="321" font-size="8.4" text-anchor="middle" fill="#000" textLength="11.85" lengthAdjust="spacingAndGlyphs" stroke="#000" stroke-width="0.22" >96k</text>
<text x="388.48" y="321" font-size="8.4" text-anchor="middle" fill="#000" textLength="11.85" lengthAdjust="spacingAndGlyphs" stroke="#000" stroke-width="0.22" >97k</text>
<text x="405.86" y="321" font-size="8.4" text-anchor="middle" fill="#000" textLength="11.85" lengthAdjust="spacingAndGlyphs" stroke="#000" stroke-width="0.22" >98k</text>
<text x="423.23" y="321" font-size="8.4" text-anchor="middle" fill="#000" textLength="11.85" lengthAdjust="spacingAndGlyphs" stroke="#000" stroke-width="0.22" >99k</text>
<text x="440.6" y="321" font-size="8.4" text-anchor="middle" fill="#000" textLength="15.93" lengthAdjust="spacingAndGlyphs" stroke="#000" stroke-width="0.22" >100k</text>
<line x1="5" y1="359" x2="441.8" y2="359" stroke="#000" stroke-width="1.25" />
<polygon points="35.1,372.9 35.1,372.9 35.9,367.6 36.9,357.8 38.2,355.3 39.6,350.4 40.6,355.3 41.2,358.24 41.2,372.9" fill="#f6cfc6"/>
<polygon points="88.5,372.9 88.5,372.9 90,363 91,356 92.2,348 93,354 93.2,354.8 93.2,372.9" fill="#f6cfc6"/>
<polygon points="93.2,372.9 93.2,354.8 94,358 95,357.5 95.8,358.5 96.5,367 96.5,372.9" fill="#1f2a85"/>
<polygon points="99.2,372.9 99.2,364.6 100,359 101,352.5 102,357 103,355 104,363 104.2,364 104.2,372.9" fill="#f6cfc6"/>
<polygon points="125.5,372.9 125.5,364.33 126,363 127,363 128,356 129.2,352.5 130.2,358 131,367 131.5,370.69 131.5,372.9" fill="#f6cfc6"/>
<polygon points="160.3,372.9 160.3,372.9 161.3,365.2 162.5,359 163.5,354.1 164.5,355.3 165.5,351.6 166.5,349.8 167.4,355.3 168.3,361.5 169.2,365.8 170.2,367.6 171.1,372.9 171.1,372.9" fill="#f6cfc6"/>
<polygon points="181.2,372.9 181.2,372.9 182.5,359 183.7,354.7 185.2,352.8 186.4,353.5 187.6,352.8 188.6,361.5 189.6,365.2 190.8,372.9 190.8,372.9" fill="#1f2a85"/>
<polygon points="192.3,372.9 192.3,370 193.3,367.6 194.5,355.3 195.7,352.2 197.2,354.7 198.8,354.1 200.4,356.5 201.8,354.1 203.3,351 204.6,350.4 205.5,355.3 206.5,367.6 207.4,372.9 207.4,372.9" fill="#1f2a85"/>
<polygon points="223.5,372.9 223.5,370.85 224.2,368.8 225.2,370 226.5,361.5 227.9,352.8 229.2,359 230.2,366.4 231.1,372.9 231.1,372.9" fill="#1f2a85"/>
<polygon points="235.1,372.9 235.1,372.9 236.1,361.5 237.3,354.7 238.8,352.2 240.6,352.2 241.8,354.1 243.1,361.5 244.3,372.9 244.3,372.9" fill="#1f2a85"/>
<polyline points="5,372.9 35.1,372.9 35.9,367.6 36.9,357.8 38.2,355.3 39.6,350.4 40.6,355.3 41.6,360.2 42.5,361.5 43.3,364.5 44.3,365.8 45.3,368.8 46.2,372.9 59.7,372.9 60.9,371.6 62.2,372.9 88.5,372.9 90,363 91,356 92.2,348 93,354 94,358 95,357.5 95.8,358.5 96.5,367 97.5,366 98.5,363 99,366 100,359 101,352.5 102,357 103,355 104,363 105,368 106.5,370 107.5,366 108.5,369 109.5,368 110.5,371 111.5,367 113.5,363.5 115,367 116.5,371.5 118,372.9 121.5,372.9 122.5,368 123.5,365 124.5,367 126,363 127,363 128,356 129.2,352.5 130.2,358 131,367 131.8,372.9 134.5,372.9 135.4,369.5 136.7,370.7 138.2,368.2 139.4,369.5 140.9,367.6 141.8,368.2 143.1,366.4 144.3,366.4 145.5,368.8 146.8,369.5 148,368.8 149.8,369.5 151.1,370.7 152.3,372.9 160.3,372.9 161.3,365.2 162.5,359 163.5,354.1 164.5,355.3 165.5,351.6 166.5,349.8 167.4,355.3 168.3,361.5 169.2,365.8 170.2,367.6 171.1,372.9 171.6,369.5 173.2,365.2 174.8,364.5 176.3,366.4 177.5,372.9 181.2,372.9 182.5,359 183.7,354.7 185.2,352.8 186.4,353.5 187.6,352.8 188.6,361.5 189.6,365.2 190.8,372.9 192.3,370 193.3,367.6 194.5,355.3 195.7,352.2 197.2,354.7 198.8,354.1 200.4,356.5 201.8,354.1 203.3,351 204.6,350.4 205.5,355.3 206.5,367.6 207.4,372.9 214.2,372.9 215.1,367 216.1,372.9 222.8,372.9 224.2,368.8 225.2,370 226.5,361.5 227.9,352.8 229.2,359 230.2,366.4 231.1,372.9 235.1,372.9 236.1,361.5 237.3,354.7 238.8,352.2 240.6,352.2 241.8,354.1 243.1,361.5 244.3,372.9 251.1,372.9 252.3,368.8 253.5,367.6 254.8,365.2 256,367.6 256.4,367.6 257.2,372.9 270.2,372.9 271.1,366.4 272.1,363.3 273.2,367 274.5,365.8 275.7,367.6 276.9,365.2 277.8,372.9 288.6,372.9 289.8,366.4 290.5,364.5 291.3,368.8 292.3,372.9 330,372.9 331.1,367.8 332.2,372.9 339,372.9 340.1,368.4 341.2,372.9 417.8,372.9 418.7,370.7 419.7,372.9 423.4,372.9 424.4,367.6 425.2,361.5 426.5,363.9 427.3,369.5 428.3,363.3 429.5,367.6 430.8,371.3 432,364.5 433.2,361.5 434.5,363.9 435.7,367.6 436.7,362.7 437.9,361.5 439.1,365.2 440,367.6 440.9,372.9 441.8,372.9" fill="none" stroke="#000" stroke-width="1.25" stroke-linejoin="round"/>
<rect x="5" y="345.3" width="436.8" height="27.6" fill="none" stroke="#000" stroke-width="1.35"/>
<text x="443.3" y="349" font-size="9.8" text-anchor="start" fill="#000" textLength="23" lengthAdjust="spacingAndGlyphs" stroke="#000" stroke-width="0.22" >100%</text>
<text x="443.3" y="360.4" font-size="9.8" text-anchor="start" fill="#000" textLength="18" lengthAdjust="spacingAndGlyphs" stroke="#000" stroke-width="0.22" >75%</text>
<text x="443.3" y="372.8" font-size="9.8" text-anchor="start" fill="#000" textLength="18" lengthAdjust="spacingAndGlyphs" stroke="#000" stroke-width="0.22" >50%</text>
<text x="8.8" y="381.2" font-size="8.4" text-anchor="middle" fill="#000" textLength="15.93" lengthAdjust="spacingAndGlyphs" stroke="#000" stroke-width="0.22" >100k</text>
<text x="26.17" y="381.2" font-size="8.4" text-anchor="middle" fill="#000" textLength="15.93" lengthAdjust="spacingAndGlyphs" stroke="#000" stroke-width="0.22" >101k</text>
<text x="43.54" y="381.2" font-size="8.4" text-anchor="middle" fill="#000" textLength="15.93" lengthAdjust="spacingAndGlyphs" stroke="#000" stroke-width="0.22" >102k</text>
<text x="60.9" y="381.2" font-size="8.4" text-anchor="middle" fill="#000" textLength="15.93" lengthAdjust="spacingAndGlyphs" stroke="#000" stroke-width="0.22" >103k</text>
<text x="78.27" y="381.2" font-size="8.4" text-anchor="middle" fill="#000" textLength="15.93" lengthAdjust="spacingAndGlyphs" stroke="#000" stroke-width="0.22" >104k</text>
<text x="95.64" y="381.2" font-size="8.4" text-anchor="middle" fill="#000" textLength="15.93" lengthAdjust="spacingAndGlyphs" stroke="#000" stroke-width="0.22" >105k</text>
<text x="113.01" y="381.2" font-size="8.4" text-anchor="middle" fill="#000" textLength="15.93" lengthAdjust="spacingAndGlyphs" stroke="#000" stroke-width="0.22" >106k</text>
<text x="130.38" y="381.2" font-size="8.4" text-anchor="middle" fill="#000" textLength="15.93" lengthAdjust="spacingAndGlyphs" stroke="#000" stroke-width="0.22" >107k</text>
<text x="147.74" y="381.2" font-size="8.4" text-anchor="middle" fill="#000" textLength="15.93" lengthAdjust="spacingAndGlyphs" stroke="#000" stroke-width="0.22" >108k</text>
<text x="165.11" y="381.2" font-size="8.4" text-anchor="middle" fill="#000" textLength="15.93" lengthAdjust="spacingAndGlyphs" stroke="#000" stroke-width="0.22" >109k</text>
<text x="182.48" y="381.2" font-size="8.4" text-anchor="middle" fill="#000" textLength="15.93" lengthAdjust="spacingAndGlyphs" stroke="#000" stroke-width="0.22" >110k</text>
<text x="199.85" y="381.2" font-size="8.4" text-anchor="middle" fill="#000" textLength="15.93" lengthAdjust="spacingAndGlyphs" stroke="#000" stroke-width="0.22" >111k</text>
<text x="217.22" y="381.2" font-size="8.4" text-anchor="middle" fill="#000" textLength="15.93" lengthAdjust="spacingAndGlyphs" stroke="#000" stroke-width="0.22" >112k</text>
<text x="234.58" y="381.2" font-size="8.4" text-anchor="middle" fill="#000" textLength="15.93" lengthAdjust="spacingAndGlyphs" stroke="#000" stroke-width="0.22" >113k</text>
<text x="251.95" y="381.2" font-size="8.4" text-anchor="middle" fill="#000" textLength="15.93" lengthAdjust="spacingAndGlyphs" stroke="#000" stroke-width="0.22" >114k</text>
<text x="269.32" y="381.2" font-size="8.4" text-anchor="middle" fill="#000" textLength="15.93" lengthAdjust="spacingAndGlyphs" stroke="#000" stroke-width="0.22" >115k</text>
<text x="286.69" y="381.2" font-size="8.4" text-anchor="middle" fill="#000" textLength="15.93" lengthAdjust="spacingAndGlyphs" stroke="#000" stroke-width="0.22" >116k</text>
<text x="304.06" y="381.2" font-size="8.4" text-anchor="middle" fill="#000" textLength="15.93" lengthAdjust="spacingAndGlyphs" stroke="#000" stroke-width="0.22" >117k</text>
<text x="321.42" y="381.2" font-size="8.4" text-anchor="middle" fill="#000" textLength="15.93" lengthAdjust="spacingAndGlyphs" stroke="#000" stroke-width="0.22" >118k</text>
<text x="338.79" y="381.2" font-size="8.4" text-anchor="middle" fill="#000" textLength="15.93" lengthAdjust="spacingAndGlyphs" stroke="#000" stroke-width="0.22" >119k</text>
<text x="356.16" y="381.2" font-size="8.4" text-anchor="middle" fill="#000" textLength="15.93" lengthAdjust="spacingAndGlyphs" stroke="#000" stroke-width="0.22" >120k</text>
<text x="373.53" y="381.2" font-size="8.4" text-anchor="middle" fill="#000" textLength="15.93" lengthAdjust="spacingAndGlyphs" stroke="#000" stroke-width="0.22" >121k</text>
<text x="390.9" y="381.2" font-size="8.4" text-anchor="middle" fill="#000" textLength="15.93" lengthAdjust="spacingAndGlyphs" stroke="#000" stroke-width="0.22" >122k</text>
<text x="408.26" y="381.2" font-size="8.4" text-anchor="middle" fill="#000" textLength="15.93" lengthAdjust="spacingAndGlyphs" stroke="#000" stroke-width="0.22" >123k</text>
<text x="425.63" y="381.2" font-size="8.4" text-anchor="middle" fill="#000" textLength="15.93" lengthAdjust="spacingAndGlyphs" stroke="#000" stroke-width="0.22" >124k</text>
<text x="443" y="381.2" font-size="8.4" text-anchor="middle" fill="#000" textLength="15.93" lengthAdjust="spacingAndGlyphs" stroke="#000" stroke-width="0.22" >125k</text>
<line x1="5" y1="412" x2="441.8" y2="412" stroke="#000" stroke-width="1.25" />
<polygon points="16.2,425.9 16.2,416.78 17.2,413.2 18.5,411.4 19.4,413.8 20.3,416.3 20.6,415.9 20.6,425.9" fill="#f6cfc6"/>
<polygon points="27.2,425.9 27.2,416.56 27.7,414.5 28.6,410.8 29.5,409.5 30.5,412 31.8,407.7 32.7,405.8 33.7,408.3 34.7,412 35.7,407.7 36.7,409.5 37.5,413.2 38.4,420.6 38.4,425.9" fill="#1f2a85"/>
<polygon points="68.9,425.9 68.9,425.9 69.9,412 71.1,404.6 72.4,408.3 73.6,405.2 74.8,412 76.1,425.9 76.1,425.9" fill="#1f2a85"/>
<polygon points="87.6,425.9 87.6,415.18 88.4,408.3 89.6,404 90.8,410.8 91.7,414.5 92.9,407.1 94.2,404.6 95.4,409.5 96.2,425.9 96.2,425.9" fill="#1f2a85"/>
<polygon points="115.4,425.9 115.4,417.52 116.3,408.3 117.5,403.4 118.8,407.1 120,404.6 121.2,409.5 122.5,417.5 123.7,420.6 124.6,425.9 124.6,425.9" fill="#1f2a85"/>
<polygon points="152,425.9 152,425.9 153,410.8 154.1,403.4 155.3,409.5 156.6,407.1 157.8,413.2 159,407.7 160.2,405.8 161.2,413.2 162.5,406.5 163.7,410.8 164.7,425.9 164.7,425.9" fill="#1f2a85"/>
<polygon points="178.2,425.9 178.2,425.9 179.4,410.8 180.7,400.9 181.9,408.3 183.1,415.7 184.4,410.8 185.6,415.7 186.8,420.6 188.3,414.5 189.5,410.8 190.8,412 192,409.5 193.2,410.8 194.5,416.9 195.7,424.3 196.9,412 198.2,405.2 199.4,402.8 200.6,407.1 201.8,425.9 201.8,425.9" fill="#1f2a85"/>
<polygon points="203.3,425.9 203.3,425.9 204.3,414.5 205.5,407.7 206.8,409.5 208,425.9 208,425.9" fill="#1f2a85"/>
<polygon points="213.6,425.9 213.6,416.48 214.2,414.5 215.4,404.6 216.6,409.5 217.8,407.1 219.1,404 220.3,405.2 221.5,408.3 222.5,420.6 222.5,425.9" fill="#1f2a85"/>
<polygon points="251.1,425.9 251.1,425.9 252.3,410.8 253.5,401.5 254.8,408.3 256,421.8 256.5,423.85 256.5,425.9" fill="#1f2a85"/>
<polygon points="287.6,425.9 287.6,415.37 288.2,410.8 289.5,406.5 290.7,409.5 291.7,414.5 292.6,425.9 292.6,425.9" fill="#1f2a85"/>
<polygon points="305,425.9 305,419.6 305.8,412.6 307.1,408.3 308.3,404 309.5,407.1 310.8,410.8 312,415.7 313.2,408.3 314.5,412 315.7,420.6 316,419.07 316,425.9" fill="#1f2a85"/>
<polygon points="316.3,425.9 316.3,417.55 316.9,414.5 318.2,409.5 319.4,412 320,412 321.2,409.5 322.5,412 323.7,425.9 323.7,425.9" fill="#1f2a85"/>
<polygon points="410.5,425.9 410.5,425.9 411.7,420.6 412.9,409.5 414.2,406.5 415.4,408.3 416.6,407.1 417.8,405.8 419.1,404.6 420.3,406.5 421.5,408.3 422.4,412 423.4,420.6 424.4,425.9 424.4,425.9" fill="#1f2a85"/>
<polyline points="5,425.9 6.2,420.6 7.1,417.5 8,421.8 9.2,424.9 11.1,424.3 12.3,420.6 13.3,417.5 14.2,420.6 15,416.3 16,417.5 17.2,413.2 18.5,411.4 19.4,413.8 20.3,416.3 21.2,415.1 22.2,416.9 23.1,414.5 24,416.3 24.9,418.2 25.8,422.5 26.8,418.2 27.7,414.5 28.6,410.8 29.5,409.5 30.5,412 31.8,407.7 32.7,405.8 33.7,408.3 34.7,412 35.7,407.7 36.7,409.5 37.5,413.2 38.4,420.6 39.4,414.5 40.6,413.2 41.8,416.3 42.8,418.8 43.7,416.9 44.9,423.1 46.2,420 47.4,421.2 48.2,425.9 49.8,421.8 51.1,425.9 52.9,425.9 54.8,415.7 56,415.1 57.2,420.6 57.8,425.9 68.9,425.9 69.9,412 71.1,404.6 72.4,408.3 73.6,405.2 74.8,412 76.1,425.9 79.4,425.9 80.2,420.6 81.5,419.4 82.7,416.3 83.7,417.5 84.9,420.6 86.2,421.8 87.4,416.9 88.4,408.3 89.6,404 90.8,410.8 91.7,414.5 92.9,407.1 94.2,404.6 95.4,409.5 96.2,425.9 97.8,425.9 99.1,420 100.3,417.5 101.5,415.7 102.8,414.5 104,417.5 105.2,420 106.5,416.9 107.7,418.8 108.9,420.6 110.2,417.5 111.4,421.8 112.6,418.8 113.8,416.3 115.1,420.6 116.3,408.3 117.5,403.4 118.8,407.1 120,404.6 121.2,409.5 122.5,417.5 123.7,420.6 124.6,425.9 128,423 129.2,425.9 135.4,425.9 136.4,416.9 137.4,425.9 152,425.9 153,410.8 154.1,403.4 155.3,409.5 156.6,407.1 157.8,413.2 159,407.7 160.2,405.8 161.2,413.2 162.5,406.5 163.7,410.8 164.7,425.9 178.2,425.9 179.4,410.8 180.7,400.9 181.9,408.3 183.1,415.7 184.4,410.8 185.6,415.7 186.8,420.6 188.3,414.5 189.5,410.8 190.8,412 192,409.5 193.2,410.8 194.5,416.9 195.7,424.3 196.9,412 198.2,405.2 199.4,402.8 200.6,407.1 201.8,425.9 203.3,425.9 204.3,414.5 205.5,407.7 206.8,409.5 208,425.9 209.2,420.6 210.5,415.7 211.7,421.8 212.9,418.8 214.2,414.5 215.4,404.6 216.6,409.5 217.8,407.1 219.1,404 220.3,405.2 221.5,408.3 222.5,420.6 223.4,421.8 224.6,420.6 225.5,424.3 227.1,420.6 228.3,417.5 229.5,413.2 230.8,419.4 232,422.5 233.2,418.2 234.5,420.6 235.7,416.9 236.9,421.8 238.2,417.5 239.4,423.1 240.6,425.9 251.1,425.9 252.3,410.8 253.5,401.5 254.8,408.3 256,421.8 257,425.9 258.5,425.9 259.7,416.9 260.7,422.5 261.5,418.2 262.4,425.9 264.6,425.9 265.6,419.4 266.8,425.9 267.7,424.3 268.6,418.8 269.5,425.9 276.3,425.9 277.5,416.3 278.8,415.7 280,420.6 281.2,416.3 282.5,424.3 283.3,410.8 284.6,415.7 285.8,414.5 287.4,416.9 288.2,410.8 289.5,406.5 290.7,409.5 291.7,414.5 292.6,425.9 293.5,414.5 294.8,415.1 296,413.8 297.2,415.7 298.5,419.4 299.7,413.2 300.9,420.6 302.2,412.6 303.4,414.5 304.6,423.1 305.8,412.6 307.1,408.3 308.3,404 309.5,407.1 310.8,410.8 312,415.7 313.2,408.3 314.5,412 315.7,420.6 316.9,414.5 318.2,409.5 319.4,412 320,412 321.2,409.5 322.5,412 323.7,425.9 324.9,418.2 325.9,414.5 326.8,419.4 327.6,415.7 328.6,420.6 329.6,418.2 330.8,422.5 331.7,418.2 332.6,419.4 333.8,421.2 334.8,418.8 335.8,425.9 341.5,425.9 342.8,418.8 343.8,422.5 344.6,418.2 345.8,425.9 347.1,421.8 348.1,425.9 350.2,425.9 352.2,420.6 353.2,420 354.5,422.5 355.7,425.9 358.2,425.9 359.4,416.9 360.4,425.9 374.2,425.9 375.4,410.2 376.4,413.2 377.2,425.9 390.8,425.9 392.4,417.5 393.6,419.4 395.1,425.9 410.5,425.9 411.7,420.6 412.9,409.5 414.2,406.5 415.4,408.3 416.6,407.1 417.8,405.8 419.1,404.6 420.3,406.5 421.5,408.3 422.4,412 423.4,420.6 424.4,425.9 425.2,425.9 426.5,415.1 427.3,419.4 428.1,425.9 440,425.9 440.9,422.5 441.8,425.9" fill="none" stroke="#000" stroke-width="1.25" stroke-linejoin="round"/>
<rect x="5" y="398" width="436.8" height="27.9" fill="none" stroke="#000" stroke-width="1.35"/>
<text x="443.3" y="401.4" font-size="9.8" text-anchor="start" fill="#000" textLength="23" lengthAdjust="spacingAndGlyphs" stroke="#000" stroke-width="0.22" >100%</text>
<text x="443.3" y="414.2" font-size="9.8" text-anchor="start" fill="#000" textLength="18" lengthAdjust="spacingAndGlyphs" stroke="#000" stroke-width="0.22" >75%</text>
<text x="443.3" y="426.4" font-size="9.8" text-anchor="start" fill="#000" textLength="18" lengthAdjust="spacingAndGlyphs" stroke="#000" stroke-width="0.22" >50%</text>
<text x="8.8" y="434.5" font-size="8.4" text-anchor="middle" fill="#000" textLength="15.93" lengthAdjust="spacingAndGlyphs" stroke="#000" stroke-width="0.22" >125k</text>
<text x="26.18" y="434.5" font-size="8.4" text-anchor="middle" fill="#000" textLength="15.93" lengthAdjust="spacingAndGlyphs" stroke="#000" stroke-width="0.22" >126k</text>
<text x="43.55" y="434.5" font-size="8.4" text-anchor="middle" fill="#000" textLength="15.93" lengthAdjust="spacingAndGlyphs" stroke="#000" stroke-width="0.22" >127k</text>
<text x="60.93" y="434.5" font-size="8.4" text-anchor="middle" fill="#000" textLength="15.93" lengthAdjust="spacingAndGlyphs" stroke="#000" stroke-width="0.22" >128k</text>
<text x="78.3" y="434.5" font-size="8.4" text-anchor="middle" fill="#000" textLength="15.93" lengthAdjust="spacingAndGlyphs" stroke="#000" stroke-width="0.22" >129k</text>
<text x="95.68" y="434.5" font-size="8.4" text-anchor="middle" fill="#000" textLength="15.93" lengthAdjust="spacingAndGlyphs" stroke="#000" stroke-width="0.22" >130k</text>
<text x="113.06" y="434.5" font-size="8.4" text-anchor="middle" fill="#000" textLength="15.93" lengthAdjust="spacingAndGlyphs" stroke="#000" stroke-width="0.22" >131k</text>
<text x="130.43" y="434.5" font-size="8.4" text-anchor="middle" fill="#000" textLength="15.93" lengthAdjust="spacingAndGlyphs" stroke="#000" stroke-width="0.22" >132k</text>
<text x="147.81" y="434.5" font-size="8.4" text-anchor="middle" fill="#000" textLength="15.93" lengthAdjust="spacingAndGlyphs" stroke="#000" stroke-width="0.22" >133k</text>
<text x="165.18" y="434.5" font-size="8.4" text-anchor="middle" fill="#000" textLength="15.93" lengthAdjust="spacingAndGlyphs" stroke="#000" stroke-width="0.22" >134k</text>
<text x="182.56" y="434.5" font-size="8.4" text-anchor="middle" fill="#000" textLength="15.93" lengthAdjust="spacingAndGlyphs" stroke="#000" stroke-width="0.22" >135k</text>
<text x="199.94" y="434.5" font-size="8.4" text-anchor="middle" fill="#000" textLength="15.93" lengthAdjust="spacingAndGlyphs" stroke="#000" stroke-width="0.22" >136k</text>
<text x="217.31" y="434.5" font-size="8.4" text-anchor="middle" fill="#000" textLength="15.93" lengthAdjust="spacingAndGlyphs" stroke="#000" stroke-width="0.22" >137k</text>
<text x="234.69" y="434.5" font-size="8.4" text-anchor="middle" fill="#000" textLength="15.93" lengthAdjust="spacingAndGlyphs" stroke="#000" stroke-width="0.22" >138k</text>
<text x="252.06" y="434.5" font-size="8.4" text-anchor="middle" fill="#000" textLength="15.93" lengthAdjust="spacingAndGlyphs" stroke="#000" stroke-width="0.22" >139k</text>
<text x="269.44" y="434.5" font-size="8.4" text-anchor="middle" fill="#000" textLength="15.93" lengthAdjust="spacingAndGlyphs" stroke="#000" stroke-width="0.22" >140k</text>
<text x="286.82" y="434.5" font-size="8.4" text-anchor="middle" fill="#000" textLength="15.93" lengthAdjust="spacingAndGlyphs" stroke="#000" stroke-width="0.22" >141k</text>
<text x="304.19" y="434.5" font-size="8.4" text-anchor="middle" fill="#000" textLength="15.93" lengthAdjust="spacingAndGlyphs" stroke="#000" stroke-width="0.22" >142k</text>
<text x="321.57" y="434.5" font-size="8.4" text-anchor="middle" fill="#000" textLength="15.93" lengthAdjust="spacingAndGlyphs" stroke="#000" stroke-width="0.22" >143k</text>
<text x="338.94" y="434.5" font-size="8.4" text-anchor="middle" fill="#000" textLength="15.93" lengthAdjust="spacingAndGlyphs" stroke="#000" stroke-width="0.22" >144k</text>
<text x="356.32" y="434.5" font-size="8.4" text-anchor="middle" fill="#000" textLength="15.93" lengthAdjust="spacingAndGlyphs" stroke="#000" stroke-width="0.22" >145k</text>
<text x="373.7" y="434.5" font-size="8.4" text-anchor="middle" fill="#000" textLength="15.93" lengthAdjust="spacingAndGlyphs" stroke="#000" stroke-width="0.22" >146k</text>
<text x="391.07" y="434.5" font-size="8.4" text-anchor="middle" fill="#000" textLength="15.93" lengthAdjust="spacingAndGlyphs" stroke="#000" stroke-width="0.22" >147k</text>
<text x="408.45" y="434.5" font-size="8.4" text-anchor="middle" fill="#000" textLength="15.93" lengthAdjust="spacingAndGlyphs" stroke="#000" stroke-width="0.22" >148k</text>
<text x="425.82" y="434.5" font-size="8.4" text-anchor="middle" fill="#000" textLength="15.93" lengthAdjust="spacingAndGlyphs" stroke="#000" stroke-width="0.22" >149k</text>
<text x="443.2" y="434.5" font-size="8.4" text-anchor="middle" fill="#000" textLength="15.93" lengthAdjust="spacingAndGlyphs" stroke="#000" stroke-width="0.22" >150k</text>
<line x1="5.6" y1="464.6" x2="59.2" y2="464.6" stroke="#000" stroke-width="1.25" />
<polygon points="9.8,477.8 9.8,473.2 11.1,468.3 12.3,463.4 13.5,458.5 14.5,460.9 15.4,468.3 16.2,475.7 16.2,477.8" fill="#1f2a85"/>
<polygon points="22.2,477.8 22.2,472 23.4,463.4 24.6,459.7 26.1,459.1 27.3,456 28.6,454.8 29.8,456.6 30.8,460.9 31.8,468.3 32.6,475.7 32.6,477.8" fill="#1f2a85"/>
<polygon points="42.2,477.8 42.2,470.45 43.1,468.3 44.6,463.4 45.8,461.5 46.8,467.1 47.8,474.5 47.8,477.8" fill="#1f2a85"/>
<polygon points="51.1,477.8 51.1,472 52.3,467.1 53.5,464.6 54.5,463.4 55.4,468.3 56.4,472 57.2,476.9 57.2,477.8" fill="#1f2a85"/>
<polyline points="5.6,477.8 6.2,472 7.4,474.5 8.6,475.7 9.8,473.2 11.1,468.3 12.3,463.4 13.5,458.5 14.5,460.9 15.4,468.3 16.2,475.7 17.2,474.5 18.5,472.6 19.7,475.7 20.9,474.5 22.2,472 23.4,463.4 24.6,459.7 26.1,459.1 27.3,456 28.6,454.8 29.8,456.6 30.8,460.9 31.8,468.3 32.6,475.7 33.5,469.5 34.5,473.2 35.7,475.1 36.9,473.2 38.2,475.1 39.4,472 40.6,474.5 41.8,471.4 43.1,468.3 44.6,463.4 45.8,461.5 46.8,467.1 47.8,474.5 48.7,470.8 49.8,468.3 51.1,472 52.3,467.1 53.5,464.6 54.5,463.4 55.4,468.3 56.4,472 57.2,476.9 57.8,477.8 59.2,477.8" fill="none" stroke="#000" stroke-width="1.25" stroke-linejoin="round"/>
<rect x="5.6" y="450.4" width="53.6" height="27.4" fill="none" stroke="#000" stroke-width="1.35"/>
<text x="60.7" y="453.7" font-size="9.8" text-anchor="start" fill="#000" textLength="23" lengthAdjust="spacingAndGlyphs" stroke="#000" stroke-width="0.22" >100%</text>
<text x="60.7" y="465.8" font-size="9.8" text-anchor="start" fill="#000" textLength="18" lengthAdjust="spacingAndGlyphs" stroke="#000" stroke-width="0.22" >75%</text>
<text x="60.7" y="478.4" font-size="9.8" text-anchor="start" fill="#000" textLength="18" lengthAdjust="spacingAndGlyphs" stroke="#000" stroke-width="0.22" >50%</text>
<text x="8.6" y="485.4" font-size="8.4" text-anchor="middle" fill="#000" textLength="15.93" lengthAdjust="spacingAndGlyphs" stroke="#000" stroke-width="0.22" >150k</text>
<text x="25.6" y="485.4" font-size="8.4" text-anchor="middle" fill="#000" textLength="15.93" lengthAdjust="spacingAndGlyphs" stroke="#000" stroke-width="0.22" >151k</text>
<text x="42.6" y="485.4" font-size="8.4" text-anchor="middle" fill="#000" textLength="15.93" lengthAdjust="spacingAndGlyphs" stroke="#000" stroke-width="0.22" >152k</text>
<text x="59.6" y="485.4" font-size="8.4" text-anchor="middle" fill="#000" textLength="15.93" lengthAdjust="spacingAndGlyphs" stroke="#000" stroke-width="0.22" >153k</text>
<text x="0.6" y="506.3" font-size="16.5" text-anchor="start" fill="#000" font-weight="bold" >D</text>
<rect x="54.48" y="506.8" width="1.1" height="2.6" fill="#222" />
<text x="55.03" y="518.8" font-size="9.6" text-anchor="middle" transform="translate(55.03 0) scale(0.68 1) translate(-55.03 0)" fill="#111" stroke="#111" stroke-width="0.3">-90</text>
<rect x="81.61" y="506.8" width="1.1" height="2.6" fill="#222" />
<text x="82.16" y="518.8" font-size="9.6" text-anchor="middle" transform="translate(82.16 0) scale(0.68 1) translate(-82.16 0)" fill="#111" stroke="#111" stroke-width="0.3">-80</text>
<rect x="108.74" y="506.8" width="1.1" height="2.6" fill="#222" />
<text x="109.29" y="518.8" font-size="9.6" text-anchor="middle" transform="translate(109.29 0) scale(0.68 1) translate(-109.29 0)" fill="#111" stroke="#111" stroke-width="0.3">-70</text>
<rect x="135.87" y="506.8" width="1.1" height="2.6" fill="#222" />
<text x="136.42" y="518.8" font-size="9.6" text-anchor="middle" transform="translate(136.42 0) scale(0.68 1) translate(-136.42 0)" fill="#111" stroke="#111" stroke-width="0.3">-60</text>
<rect x="163" y="506.8" width="1.1" height="2.6" fill="#222" />
<text x="163.55" y="518.8" font-size="9.6" text-anchor="middle" transform="translate(163.55 0) scale(0.68 1) translate(-163.55 0)" fill="#111" stroke="#111" stroke-width="0.3">-50</text>
<rect x="190.13" y="506.8" width="1.1" height="2.6" fill="#222" />
<text x="190.68" y="518.8" font-size="9.6" text-anchor="middle" transform="translate(190.68 0) scale(0.68 1) translate(-190.68 0)" fill="#111" stroke="#111" stroke-width="0.3">-40</text>
<rect x="217.26" y="506.8" width="1.1" height="2.6" fill="#222" />
<text x="217.81" y="518.8" font-size="9.6" text-anchor="middle" transform="translate(217.81 0) scale(0.68 1) translate(-217.81 0)" fill="#111" stroke="#111" stroke-width="0.3">-30</text>
<rect x="244.39" y="506.8" width="1.1" height="2.6" fill="#222" />
<text x="244.94" y="518.8" font-size="9.6" text-anchor="middle" transform="translate(244.94 0) scale(0.68 1) translate(-244.94 0)" fill="#111" stroke="#111" stroke-width="0.3">-20</text>
<rect x="271.52" y="506.8" width="1.1" height="2.6" fill="#222" />
<text x="272.07" y="518.8" font-size="9.6" text-anchor="middle" transform="translate(272.07 0) scale(0.68 1) translate(-272.07 0)" fill="#111" stroke="#111" stroke-width="0.3">-10</text>
<rect x="298.65" y="506.8" width="1.1" height="2.6" fill="#222" />
<text x="299.2" y="518.8" font-size="9.6" text-anchor="middle" transform="translate(299.2 0) scale(0.68 1) translate(-299.2 0)" fill="#111" stroke="#111" stroke-width="0.3">0</text>
<rect x="325.78" y="506.8" width="1.1" height="2.6" fill="#222" />
<text x="326.33" y="518.8" font-size="9.6" text-anchor="middle" transform="translate(326.33 0) scale(0.68 1) translate(-326.33 0)" fill="#111" stroke="#111" stroke-width="0.3">10</text>
<rect x="352.91" y="506.8" width="1.1" height="2.6" fill="#222" />
<text x="353.46" y="518.8" font-size="9.6" text-anchor="middle" transform="translate(353.46 0) scale(0.68 1) translate(-353.46 0)" fill="#111" stroke="#111" stroke-width="0.3">20</text>
<rect x="380.04" y="506.8" width="1.1" height="2.6" fill="#222" />
<text x="380.59" y="518.8" font-size="9.6" text-anchor="middle" transform="translate(380.59 0) scale(0.68 1) translate(-380.59 0)" fill="#111" stroke="#111" stroke-width="0.3">30</text>
<rect x="407.17" y="506.8" width="1.1" height="2.6" fill="#222" />
<text x="407.72" y="518.8" font-size="9.6" text-anchor="middle" transform="translate(407.72 0) scale(0.68 1) translate(-407.72 0)" fill="#111" stroke="#111" stroke-width="0.3">40</text>
<line x1="15" y1="548.8" x2="429.2" y2="548.8" stroke="#000" stroke-width="1.2" />
<rect x="15" y="545.3" width="32.5" height="4.1" fill="#000" />
<rect x="163.3" y="545.3" width="39.2" height="4.1" fill="#000" />
<rect x="300" y="545.1" width="25" height="4.3" fill="#000" />
<rect x="353.9" y="545" width="47.9" height="4.4" fill="#000" />
<rect x="416.3" y="545.3" width="2.5" height="4.1" fill="#000" />
<rect x="420.9" y="548.6" width="8.3" height="4.4" fill="#000" />
<text x="14.5" y="542.5" font-size="8.6" text-anchor="start" fill="#3a3a3a" stroke="#3a3a3a" stroke-width="0.12" font-style="italic" >mSuv39h1</text>
<text x="149.5" y="542.5" font-size="8.6" text-anchor="start" fill="#3a3a3a" stroke="#3a3a3a" stroke-width="0.12" font-style="italic" >m2010001H14Rik</text>
<text x="296.2" y="542.5" font-size="8.6" text-anchor="start" fill="#3a3a3a" stroke="#3a3a3a" stroke-width="0.12" font-style="italic" >mGata1</text>
<text x="360.2" y="542.4" font-size="8.6" text-anchor="start" fill="#3a3a3a" stroke="#3a3a3a" stroke-width="0.12" font-style="italic" >mHdac&#160;&#160;6</text>
<text x="411.6" y="542.4" font-size="8.6" text-anchor="start" fill="#3a3a3a" stroke="#3a3a3a" stroke-width="0.12" font-style="italic" >mEras</text>
<text x="417.5" y="561.6" font-size="8.6" text-anchor="start" fill="#3a3a3a" stroke="#3a3a3a" stroke-width="0.12" font-style="italic" >mPcsk1n</text>
<polygon points="267.3,561.2 269.9,552.4 272.5,561.2" fill="#d2d2d2"/>
<line x1="269.9" y1="555" x2="269.9" y2="567.3" stroke="#b8b8b8" stroke-width="1.2" />
<polygon points="288,561.2 290.6,552.4 293.2,561.2" fill="#d2d2d2"/>
<line x1="290.6" y1="555" x2="290.6" y2="567.3" stroke="#b8b8b8" stroke-width="1.2" />
<polygon points="296.8,561.2 299.4,552.4 302,561.2" fill="#d2d2d2"/>
<line x1="299.4" y1="555" x2="299.4" y2="567.3" stroke="#b8b8b8" stroke-width="1.2" />
<polygon points="306.6,561.2 309.2,552.4 311.8,561.2" fill="#d2d2d2"/>
<line x1="309.2" y1="555" x2="309.2" y2="567.3" stroke="#b8b8b8" stroke-width="1.2" />
<text x="218.7" y="573.8" font-size="9.4">IT promoter</text>
<text x="271.8" y="573.8" font-size="9.4">HS 1</text>
<text x="294.4" y="573.8" font-size="9.4">IE</text>
<text x="309.4" y="573.8" font-size="9.4">intron element</text>
<defs><filter id="bl" x="-5%" y="-50%" width="110%" height="200%"><feGaussianBlur stdDeviation="0.45 0.3"/></filter></defs>
<g filter="url(#bl)"><rect x="27" y="585.8" width="1.2" height="5" fill="#777"/><rect x="28.7" y="585.8" width="1.2" height="5" fill="#888"/><rect x="30.4" y="585.8" width="1.2" height="5" fill="#777"/><rect x="32" y="585.8" width="1.2" height="5" fill="#777"/><rect x="33.8" y="585.8" width="1.2" height="5" fill="#888"/><rect x="36.1" y="585.8" width="1.2" height="5" fill="#888"/><rect x="41.2" y="585.8" width="1.2" height="5" fill="#555"/><rect x="42.4" y="585.8" width="1.2" height="5" fill="#555"/><rect x="44" y="585.8" width="1.2" height="5" fill="#888"/><rect x="47.5" y="585.8" width="1.2" height="5" fill="#777"/><rect x="50.3" y="585.8" width="1.2" height="5" fill="#999"/><rect x="51.6" y="585.8" width="1.2" height="5" fill="#888"/><rect x="53.2" y="585.8" width="1.2" height="5" fill="#555"/><rect x="55.1" y="585.8" width="1.2" height="5" fill="#444"/><rect x="57" y="585.8" width="1.2" height="5" fill="#777"/><rect x="58.7" y="585.8" width="1.2" height="5" fill="#666"/><rect x="60.2" y="585.8" width="1.2" height="5" fill="#555"/><rect x="62.1" y="585.8" width="1.2" height="5" fill="#444"/><rect x="64" y="585.8" width="1.2" height="5" fill="#888"/><rect x="65.3" y="585.8" width="1.2" height="5" fill="#999"/><rect x="66.8" y="585.8" width="1.2" height="5" fill="#999"/><rect x="68.1" y="585.8" width="1.2" height="5" fill="#444"/><rect x="69.3" y="585.8" width="1.2" height="5" fill="#888"/><rect x="71" y="585.8" width="1.2" height="5" fill="#777"/><rect x="72.9" y="585.8" width="1.2" height="5" fill="#777"/><rect x="74.8" y="585.8" width="1.2" height="5" fill="#999"/><rect x="76.4" y="585.8" width="1.2" height="5" fill="#999"/><rect x="79.2" y="585.8" width="1.2" height="5" fill="#888"/><rect x="82" y="585.8" width="1.2" height="5" fill="#999"/><rect x="86.9" y="585.8" width="1.2" height="5" fill="#555"/><rect x="88.7" y="585.8" width="1.2" height="5" fill="#888"/><rect x="90.2" y="585.8" width="1.2" height="5" fill="#444"/><rect x="91.8" y="585.8" width="1.2" height="5" fill="#888"/><rect x="93.5" y="585.8" width="1.2" height="5" fill="#444"/><rect x="95.3" y="585.8" width="1.2" height="5" fill="#444"/><rect x="98.8" y="585.8" width="1.2" height="5" fill="#444"/><rect x="100.1" y="585.8" width="1.2" height="5" fill="#555"/><rect x="101.4" y="585.8" width="1.2" height="5" fill="#555"/><rect x="106.4" y="585.8" width="1.2" height="5" fill="#888"/><rect x="112.1" y="585.8" width="1.2" height="5" fill="#444"/><rect x="113.8" y="585.8" width="1.2" height="5" fill="#777"/><rect x="117.9" y="585.8" width="1.2" height="5" fill="#666"/><rect x="120.6" y="585.8" width="1.2" height="5" fill="#777"/><rect x="122.3" y="585.8" width="1.2" height="5" fill="#888"/><rect x="124.2" y="585.8" width="1.2" height="5" fill="#555"/><rect x="129.3" y="585.8" width="1.2" height="5" fill="#888"/><rect x="131.2" y="585.8" width="1.2" height="5" fill="#555"/><rect x="132.8" y="585.8" width="1.2" height="5" fill="#999"/><rect x="134.6" y="585.8" width="1.2" height="5" fill="#666"/><rect x="136.6" y="585.8" width="1.2" height="5" fill="#777"/><rect x="138.4" y="585.8" width="1.2" height="5" fill="#444"/><rect x="142" y="585.8" width="1.2" height="5" fill="#999"/><rect x="143.2" y="585.8" width="1.2" height="5" fill="#444"/><rect x="147" y="585.8" width="1.2" height="5" fill="#777"/><rect x="149.6" y="585.8" width="1.2" height="5" fill="#999"/><rect x="151.5" y="585.8" width="1.2" height="5" fill="#666"/><rect x="152.4" y="585.8" width="1.2" height="5" fill="#777"/><rect x="154.2" y="585.8" width="1.2" height="5" fill="#888"/><rect x="155.8" y="585.8" width="1.2" height="5" fill="#444"/><rect x="157.7" y="585.8" width="1.2" height="5" fill="#999"/><rect x="159.6" y="585.8" width="1.2" height="5" fill="#666"/><rect x="161.3" y="585.8" width="1.2" height="5" fill="#666"/><rect x="163.1" y="585.8" width="1.2" height="5" fill="#555"/><rect x="165.4" y="585.8" width="1.2" height="5" fill="#888"/><rect x="167.3" y="585.8" width="1.2" height="5" fill="#666"/><rect x="171.7" y="585.8" width="1.2" height="5" fill="#444"/><rect x="173.6" y="585.8" width="1.2" height="5" fill="#444"/><rect x="175.5" y="585.8" width="1.2" height="5" fill="#888"/><rect x="179.6" y="585.8" width="1.2" height="5" fill="#444"/><rect x="181.2" y="585.8" width="1.2" height="5" fill="#777"/><rect x="183.1" y="585.8" width="1.2" height="5" fill="#444"/><rect x="184.6" y="585.8" width="1.2" height="5" fill="#666"/><rect x="188.2" y="585.8" width="1.2" height="5" fill="#777"/><rect x="189.5" y="585.8" width="1.2" height="5" fill="#444"/><rect x="191" y="585.8" width="1.2" height="5" fill="#444"/><rect x="194.8" y="585.8" width="1.2" height="5" fill="#999"/><rect x="196.5" y="585.8" width="1.2" height="5" fill="#444"/><rect x="198.6" y="585.8" width="1.2" height="5" fill="#555"/><rect x="200.3" y="585.8" width="1.2" height="5" fill="#555"/><rect x="204.7" y="585.8" width="1.2" height="5" fill="#444"/><rect x="206.2" y="585.8" width="1.2" height="5" fill="#777"/><rect x="211" y="585.8" width="1.2" height="5" fill="#777"/><rect x="213.6" y="585.8" width="1.2" height="5" fill="#999"/><rect x="219.8" y="585.8" width="1.2" height="5" fill="#777"/><rect x="221.5" y="585.8" width="1.2" height="5" fill="#777"/><rect x="223" y="585.8" width="1.2" height="5" fill="#444"/><rect x="224.9" y="585.8" width="1.2" height="5" fill="#888"/><rect x="226.8" y="585.8" width="1.2" height="5" fill="#999"/><rect x="228.7" y="585.8" width="1.2" height="5" fill="#555"/><rect x="230.4" y="585.8" width="1.2" height="5" fill="#999"/><rect x="232.2" y="585.8" width="1.2" height="5" fill="#666"/><rect x="233.8" y="585.8" width="1.2" height="5" fill="#666"/><rect x="237.6" y="585.8" width="1.2" height="5" fill="#444"/><rect x="242" y="585.8" width="1.2" height="5" fill="#666"/><rect x="243.6" y="585.8" width="1.2" height="5" fill="#666"/><rect x="245.6" y="585.8" width="1.2" height="5" fill="#444"/><rect x="247.8" y="585.8" width="1.2" height="5" fill="#777"/><rect x="249.7" y="585.8" width="1.2" height="5" fill="#444"/><rect x="251.6" y="585.8" width="1.2" height="5" fill="#555"/><rect x="253.5" y="585.8" width="1.2" height="5" fill="#555"/><rect x="255.4" y="585.8" width="1.2" height="5" fill="#999"/><rect x="257.3" y="585.8" width="1.2" height="5" fill="#444"/><rect x="259.2" y="585.8" width="1.2" height="5" fill="#444"/><rect x="261.1" y="585.8" width="1.2" height="5" fill="#444"/><rect x="263" y="585.8" width="1.2" height="5" fill="#777"/><rect x="264.9" y="585.8" width="1.2" height="5" fill="#777"/><rect x="267.2" y="585.8" width="1.2" height="5" fill="#555"/><rect x="268.7" y="585.8" width="1.2" height="5" fill="#999"/><rect x="271.2" y="585.8" width="1.2" height="5" fill="#888"/><rect x="275" y="585.8" width="1.2" height="5" fill="#555"/><rect x="277.6" y="585.8" width="1.2" height="5" fill="#777"/><rect x="280.7" y="585.8" width="1.2" height="5" fill="#888"/><rect x="283.2" y="585.8" width="1.2" height="5" fill="#555"/><rect x="285.1" y="585.8" width="1.2" height="5" fill="#999"/><rect x="290.2" y="585.8" width="1.2" height="5" fill="#555"/><rect x="294.6" y="585.8" width="1.2" height="5" fill="#777"/><rect x="296.5" y="585.8" width="1.2" height="5" fill="#999"/><rect x="298.4" y="585.8" width="1.2" height="5" fill="#777"/><rect x="301.6" y="585.8" width="1.2" height="5" fill="#444"/><rect x="303.5" y="585.8" width="1.2" height="5" fill="#777"/><rect x="308.6" y="585.8" width="1.2" height="5" fill="#777"/><rect x="309.9" y="585.8" width="1.2" height="5" fill="#555"/><rect x="316.2" y="585.8" width="1.2" height="5" fill="#444"/><rect x="318.7" y="585.8" width="1.2" height="5" fill="#666"/><rect x="321.3" y="585.8" width="1.2" height="5" fill="#888"/><rect x="323.2" y="585.8" width="1.2" height="5" fill="#666"/><rect x="325.1" y="585.8" width="1.2" height="5" fill="#444"/><rect x="327.6" y="585.8" width="1.2" height="5" fill="#555"/><rect x="329.5" y="585.8" width="1.2" height="5" fill="#555"/><rect x="331.4" y="585.8" width="1.2" height="5" fill="#777"/><rect x="334" y="585.8" width="1.2" height="5" fill="#888"/><rect x="335.9" y="585.8" width="1.2" height="5" fill="#999"/><rect x="339" y="585.8" width="1.2" height="5" fill="#888"/><rect x="341.6" y="585.8" width="1.2" height="5" fill="#444"/><rect x="343.5" y="585.8" width="1.2" height="5" fill="#444"/><rect x="350" y="585.8" width="1.2" height="5" fill="#555"/><rect x="351.7" y="585.8" width="1.2" height="5" fill="#555"/><rect x="357.4" y="585.8" width="1.2" height="5" fill="#777"/><rect x="361.6" y="585.8" width="1.2" height="5" fill="#666"/><rect x="363.2" y="585.8" width="1.2" height="5" fill="#444"/><rect x="365.7" y="585.8" width="1.2" height="5" fill="#888"/><rect x="367.4" y="585.8" width="1.2" height="5" fill="#666"/><rect x="369.8" y="585.8" width="1.2" height="5" fill="#666"/><rect x="372.3" y="585.8" width="1.2" height="5" fill="#777"/><rect x="374.8" y="585.8" width="1.2" height="5" fill="#444"/><rect x="381.4" y="585.8" width="1.2" height="5" fill="#444"/><rect x="385.5" y="585.8" width="1.2" height="5" fill="#444"/><rect x="387.2" y="585.8" width="1.2" height="5" fill="#555"/><rect x="393" y="585.8" width="1.2" height="5" fill="#888"/><rect x="396.3" y="585.8" width="1.2" height="5" fill="#999"/><rect x="402.1" y="585.8" width="1.2" height="5" fill="#555"/><rect x="407" y="585.8" width="1.2" height="5" fill="#444"/><rect x="408.7" y="585.8" width="1.2" height="5" fill="#888"/><rect x="410.3" y="585.8" width="1.2" height="5" fill="#666"/><rect x="416.1" y="585.8" width="1.2" height="5" fill="#666"/><rect x="423.6" y="585.8" width="1.2" height="5" fill="#888"/></g>
</svg>
</body></html>
